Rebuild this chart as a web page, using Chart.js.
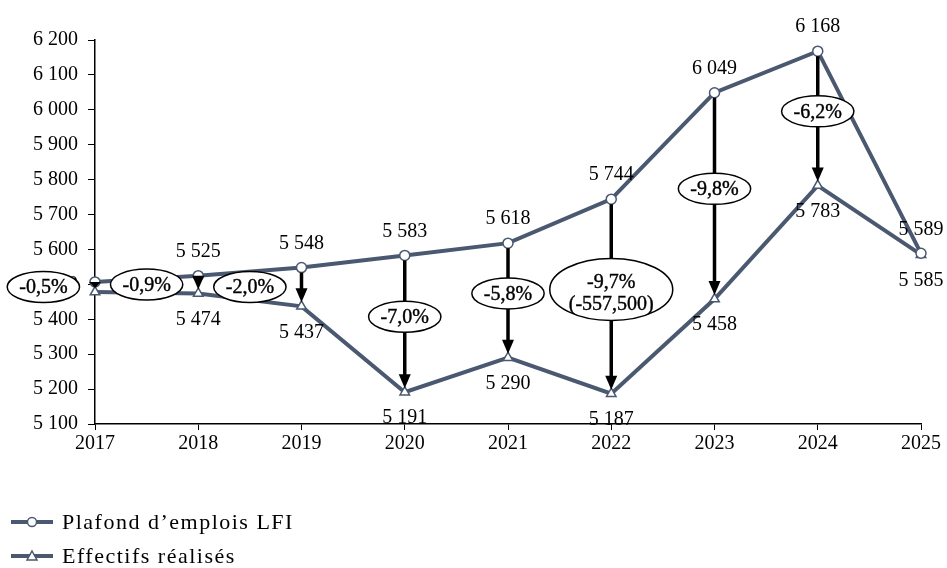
<!DOCTYPE html>
<html>
<head>
<meta charset="utf-8">
<script src="https://cdn.jsdelivr.net/npm/chart.js@4.4.1/dist/chart.umd.min.js"></script>
<style>
    body { margin: 0; background: #fff; }
    #wrap { position: relative; width: 947px; height: 568px; }
    #legend {
        position: absolute; left: 0; top: 505px;
        font-family: "Liberation Serif", serif; font-size: 22px;
        letter-spacing: 1.5px; color: #000;
    }
    .item { display: flex; align-items: center; height: 34px; }
    .item svg { margin-left: 11px; margin-right: 9px; }
</style>
</head>
<body>
<div id="wrap">
    <canvas id="chart" width="947" height="568"></canvas>
    <div id="legend">
        <div class="item">
            <svg width="42" height="14"><line x1="0" y1="7" x2="42" y2="7" stroke="#4a5970" stroke-width="4"/><circle cx="21" cy="7" r="4.5" fill="#fff" stroke="#4a5970" stroke-width="1.5"/></svg>
            <span>Plafond d’emplois LFI</span>
        </div>
        <div class="item">
            <svg width="42" height="14"><line x1="0" y1="7" x2="42" y2="7" stroke="#4a5970" stroke-width="4"/><polygon points="21,2 26,11 16,11" fill="#fff" stroke="#4a5970" stroke-width="1.5"/></svg>
            <span>Effectifs réalisés</span>
        </div>
    </div>
</div>
<script>
// Plafond d'emplois vs effectifs réalisés

const years = ["2017", "2018", "2019", "2020", "2021", "2022", "2023", "2024", "2025"];
const plafond = [5507, 5525, 5548, 5583, 5618, 5744, 6049, 6168, 5589];
const effectifs = [5478, 5474, 5437, 5191, 5290, 5187, 5458, 5783, 5585];
const ecarts = ["-0,5%", "-0,9%", "-2,0%", "-7,0%", "-5,8%", ["-9,7%", "(-557,500)"], "-9,8%", "-6,2%", null];

const LINE = "#4a5970";
const FONT = '"Liberation Serif", serif';

function fmt(n) {
    return String(n).replace(/\B(?=(\d{3})+(?!\d))/g, " ");
}

const annotate = {
    id: "annotate",
    afterDatasetsDraw(chart) {
        const ctx = chart.ctx;
        const top = chart.getDatasetMeta(0).data;
        const bot = chart.getDatasetMeta(1).data;
        const step = top[1].x - top[0].x;
        ctx.save();

        // fleches
        ctx.fillStyle = "#000";
        ctx.strokeStyle = "#000";
        ecarts.forEach((lab, i) => {
            if (!lab) return;
            const x = top[i].x;
            const gap = bot[i].y - top[i].y;
            const y1 = top[i].y + (gap > 30 ? 5 : 0);
            const y2 = bot[i].y - 4;
            const head = Math.min(14, y2 - y1);
            ctx.lineWidth = 3.5;
            if (y2 - head > y1) {
                ctx.beginPath();
                ctx.moveTo(x, y1);
                ctx.lineTo(x, y2 - head + 1);
                ctx.stroke();
            }
            ctx.beginPath();
            ctx.moveTo(x - 6, y2 - head);
            ctx.lineTo(x + 6, y2 - head);
            ctx.lineTo(x, y2);
            ctx.closePath();
            ctx.fill();
        });

        // ellipses
        ctx.font = "20px " + FONT;
        ctx.textAlign = "center";
        ctx.textBaseline = "middle";
        ecarts.forEach((lab, i) => {
            if (!lab) return;
            const lines = Array.isArray(lab) ? lab : [lab];
            const gap = bot[i].y - top[i].y;
            const mid = (top[i].y + bot[i].y) / 2;
            const cx = gap < 60 ? top[i].x - step * 0.5 : top[i].x;
            const cy = gap < 60 ? mid : mid - 7;
            const w = Math.max(...lines.map(l => ctx.measureText(l).width));
            const rx = w / 2 + (lines.length > 1 ? 19 : 12);
            const ry = lines.length > 1 ? 31 : 15.5;
            ctx.beginPath();
            ctx.ellipse(cx, cy, rx, ry, 0, 0, Math.PI * 2);
            ctx.fillStyle = "#fff";
            ctx.fill();
            ctx.lineWidth = 1.5;
            ctx.strokeStyle = "#000";
            ctx.stroke();
            ctx.fillStyle = "#000";
            ctx.strokeStyle = "#000";
            ctx.lineWidth = 0.4;
            lines.forEach((l, k) => {
                const ty = cy + (k - (lines.length - 1) / 2) * 22 + (lines.length > 1 ? 4 : 1);
                ctx.fillText(l, cx, ty);
                ctx.strokeText(l, cx, ty);
            });
        });

        // valeurs
        ctx.font = "20px " + FONT;
        ctx.fillStyle = "#000";
        for (let i = 1; i < years.length; i++) {
            ctx.fillText(fmt(plafond[i]), top[i].x, top[i].y - 24);
            ctx.fillText(fmt(effectifs[i]), bot[i].x, bot[i].y + 26);
        }
        ctx.restore();
    }
};

new Chart(document.getElementById("chart"), {
    type: "line",
    data: {
        labels: years,
        datasets: [
            {
                label: "Plafond d’emplois LFI",
                data: plafond,
                borderColor: LINE,
                borderWidth: 4,
                pointStyle: "circle",
                pointRadius: 5,
                pointBackgroundColor: "#fff",
                pointBorderColor: LINE,
                pointBorderWidth: 1.5,
                clip: false,
            },
            {
                label: "Effectifs réalisés",
                data: effectifs,
                borderColor: LINE,
                borderWidth: 4,
                pointStyle: "triangle",
                pointRadius: 5.5,
                pointBackgroundColor: "#fff",
                pointBorderColor: LINE,
                pointBorderWidth: 1.5,
                clip: false,
            },
        ],
    },
    options: {
        responsive: false,
        animation: false,
        layout: { padding: { left: 0, right: 26, top: 40, bottom: 114 } },
        plugins: {
            legend: { display: false },
            tooltip: { enabled: false },
        },
        scales: {
            x: {
                afterFit: (s) => { s.height = 30; },
                grid: { drawOnChartArea: false, drawTicks: true, tickLength: 6, color: "#000" },
                border: { color: "#000", width: 1.5 },
                ticks: { color: "#000", font: { family: FONT, size: 20 }, padding: 2, maxRotation: 0 },
            },
            y: {
                min: 5100,
                max: 6200,
                afterFit: (s) => { s.width = 95; },
                grid: { drawOnChartArea: false, drawTicks: true, tickLength: 7, color: "#000" },
                border: { color: "#000", width: 1.5 },
                ticks: {
                    stepSize: 100,
                    color: "#000",
                    font: { family: FONT, size: 20 },
                    padding: 10,
                    callback: (v) => fmt(v),
                },
            },
        },
    },
    plugins: [annotate],
});
</script>
</body>
</html>
